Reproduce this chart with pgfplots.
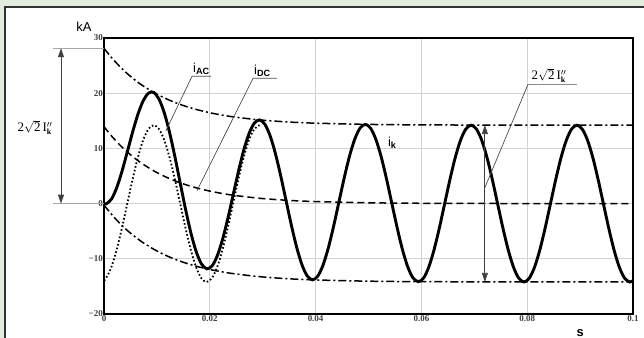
\documentclass[border=0pt]{standalone}
\usepackage{fontspec}
\setmainfont{Liberation Sans}
\newfontfamily\tnr{Liberation Serif}
\usepackage{pgfplots}
\pgfplotsset{compat=1.18}
\usetikzlibrary{arrows.meta}
\definecolor{bggreen}{RGB}{226,237,224}
\newcommand{\peaklabel}{{\tnr 2$\sqrt{\hbox{\tnr 2}}$\,I$^{\prime\prime}_{\hbox{\tnr\fontsize{8}{9}\selectfont\bfseries k}}$}}
\begin{document}
\begin{tikzpicture}
\useasboundingbox (0,0) rectangle (644bp,338bp);
\fill[bggreen] (0,0) rectangle (644bp,338bp);
\fill[white] (5bp,0) rectangle (644bp,331bp);
\draw[line width=1.4bp, black!80] (5bp,0) -- (5bp,331bp) -- (644bp,331bp);
\begin{axis}[
 at={(104bp,24bp)}, anchor=south west,
 scale only axis, width=529bp, height=276bp,
 xmin=0, xmax=0.1, ymin=-20, ymax=30,
 xtick={0,0.02,0.04,0.06,0.08,0.1},
 xticklabels={0,0.02,0.04,0.06,0.08,0.1},
 ytick={-20,-10,0,10,20,30},
 yticklabels={−20,−10,0,10,20,30},
 grid=major,
 major grid style={gray!35, line width=0.7bp},
 major tick length=0pt,
 tick label style={font=\tnr\bfseries\fontsize{9}{10}\selectfont, text=black!75},
 xticklabel style={inner sep=1.5bp},
 yticklabel style={inner sep=1bp},
 axis line style={line width=1.2bp},
 clip=false,
]
% i_AC (dotted)
\addplot[black, line width=1.8bp, dash pattern=on 1.6bp off 2.2bp, smooth] coordinates {
(0,-13.948) (0.0004,-13.505) (0.0014,-11.488) (0.0024,-8.347) (0.0034,-4.388) (0.0044,0)
(0.0054,4.388) (0.0064,8.347) (0.0074,11.488) (0.0084,13.505) (0.0094,14.2) (0.0104,13.505)
(0.0114,11.488) (0.0124,8.347) (0.0134,4.388) (0.0144,0) (0.0154,-4.388) (0.0164,-8.347)
(0.0174,-11.488) (0.0184,-13.505) (0.0194,-14.2) (0.0204,-13.505) (0.0214,-11.488)
(0.0224,-8.347) (0.0234,-4.388) (0.0244,0) (0.0254,4.388) (0.0264,8.347) (0.0274,11.488)
(0.0284,13.505) (0.0294,14.2)};
% i_DC (dashed)
\addplot[black, line width=1.5bp, dash pattern=on 7bp off 4bp, smooth] coordinates {
(0,13.95) (0.0004,13.452) (0.0014,12.283) (0.0024,11.216) (0.0034,10.241) (0.0044,9.351)
(0.0054,8.539) (0.0064,7.797) (0.0074,7.119) (0.0094,5.936) (0.0114,4.949) (0.0134,4.126)
(0.0154,3.440) (0.0174,2.868) (0.0194,2.392) (0.0214,1.994) (0.0244,1.518) (0.0294,0.964)
(0.0344,0.612) (0.0394,0.388) (0.0494,0.156) (0.0594,0.063) (0.0794,0.01) (0.1,0.002)};
% upper envelope
\addplot[black, line width=1.5bp, dash pattern=on 8bp off 3bp on 2bp off 3bp, smooth] coordinates {
(0,28.15) (0.0004,27.652) (0.0014,26.483) (0.0024,25.416) (0.0034,24.441) (0.0044,23.551)
(0.0054,22.739) (0.0064,21.997) (0.0074,21.319) (0.0094,20.136) (0.0114,19.149) (0.0134,18.326)
(0.0154,17.640) (0.0174,17.068) (0.0194,16.592) (0.0214,16.194) (0.0244,15.718) (0.0294,15.164)
(0.0344,14.812) (0.0394,14.588) (0.0494,14.356) (0.0594,14.263) (0.0794,14.21) (0.1,14.202)};
% lower envelope
\addplot[black, line width=1.5bp, dash pattern=on 8bp off 3bp on 2bp off 3bp, smooth] coordinates {
(0,-0.25) (0.0004,-0.748) (0.0014,-1.917) (0.0024,-2.984) (0.0034,-3.959) (0.0044,-4.849)
(0.0054,-5.661) (0.0064,-6.403) (0.0074,-7.081) (0.0094,-8.264) (0.0114,-9.251) (0.0134,-10.074)
(0.0154,-10.760) (0.0174,-11.332) (0.0194,-11.808) (0.0214,-12.206) (0.0244,-12.682) (0.0294,-13.236)
(0.0344,-13.588) (0.0394,-13.812) (0.0494,-14.044) (0.0594,-14.137) (0.0794,-14.19) (0.1,-14.198)};
% i_k total (thick)
\addplot[black, line width=2.9bp, smooth] coordinates {
(0,0) (0.0004,-0.053) (0.0014,0.795) (0.0024,2.869) (0.0034,5.853) (0.0044,9.351)
(0.0054,12.927) (0.0064,16.144) (0.0074,18.607) (0.0084,20.006) (0.0094,20.136) (0.0104,18.925)
(0.0114,16.437) (0.0124,12.866) (0.0134,8.514) (0.0144,3.768) (0.0154,-0.948) (0.0164,-5.206)
(0.0174,-8.620) (0.0184,-10.886) (0.0194,-11.808) (0.0204,-11.321) (0.0214,-9.494) (0.0224,-6.526)
(0.0234,-2.725) (0.0244,1.518) (0.0254,5.774) (0.0264,9.613) (0.0274,12.644) (0.0284,14.560)
(0.0294,15.164) (0.0304,14.385) (0.0314,12.291) (0.0324,9.081) (0.0334,5.058) (0.0344,0.612)
(0.0354,-3.830) (0.0364,-7.837) (0.0374,-11.022) (0.0384,-13.080) (0.0394,-13.812) (0.0404,-13.151)
(0.0414,-11.164) (0.0424,-8.051) (0.0434,-4.118) (0.0444,0.246) (0.0454,4.613) (0.0464,8.552)
(0.0474,11.675) (0.0484,13.676) (0.0494,14.356) (0.0504,13.648) (0.0514,11.618) (0.0524,8.466)
(0.0534,4.497) (0.0544,0.099) (0.0554,-4.297) (0.0564,-8.264) (0.0574,-11.413) (0.0584,-13.436)
(0.0594,-14.137) (0.0604,-13.505) (0.0614,-11.488) (0.0624,-8.347) (0.0634,-4.388) (0.0644,0)
(0.0654,4.388) (0.0664,8.347) (0.0674,11.488) (0.0684,13.505) (0.0694,14.2) (0.0704,13.505)
(0.0714,11.488) (0.0724,8.347) (0.0734,4.388) (0.0744,0) (0.0754,-4.388) (0.0764,-8.347)
(0.0774,-11.488) (0.0784,-13.505) (0.0794,-14.2) (0.0804,-13.505) (0.0814,-11.488) (0.0824,-8.347)
(0.0834,-4.388) (0.0844,0) (0.0854,4.388) (0.0864,8.347) (0.0874,11.488) (0.0884,13.505)
(0.0894,14.2) (0.0904,13.505) (0.0914,11.488) (0.0924,8.347) (0.0934,4.388) (0.0944,0)
(0.0954,-4.388) (0.0964,-8.347) (0.0974,-11.488) (0.0984,-13.505) (0.0994,-14.2) (0.1,-13.948)};
% heavier left and bottom axis lines
\draw[line width=2.2bp] (rel axis cs:0,1) -- (rel axis cs:0,0) -- (rel axis cs:1,0);
% left dimension arrow
\draw[gray!70, line width=0.8bp] (axis cs:-0.0097,28.15) -- (axis cs:0,28.15);
\draw[gray!70, line width=0.8bp] (axis cs:-0.0097,0) -- (axis cs:0,0);
\draw[black!75, line width=0.8bp, {Triangle[width=6bp,length=9bp]}-{Triangle[width=6bp,length=9bp]}]
  (axis cs:-0.00813,28.15) -- (axis cs:-0.00813,0);
\node[font=\fontsize{13}{15}\selectfont, inner sep=0pt] at (axis cs:-0.01304,13.8) {\peaklabel};
% right dimension arrow
\draw[black!75, line width=0.8bp, {Triangle[width=6bp,length=9bp]}-{Triangle[width=6bp,length=9bp]}]
  (axis cs:0.072,14.22) -- (axis cs:0.072,-14.18);
% leader lines
\draw[black!70, line width=0.7bp] (axis cs:0.0117,13.2) -- (axis cs:0.01664,23.06) -- (axis cs:0.02023,23.06);
\node[anchor=south west, inner sep=1bp, font=\fontsize{13}{15}\selectfont] at (axis cs:0.01664,23.2) {i\textsubscript{\bfseries AC}};
\draw[black!70, line width=0.7bp] (axis cs:0.01758,2.34) -- (axis cs:0.02817,22.7) -- (axis cs:0.0327,22.7);
\node[anchor=south west, inner sep=1bp, font=\fontsize{13}{15}\selectfont] at (axis cs:0.02817,22.8) {i\textsubscript{\bfseries DC}};
\draw[black!70, line width=0.7bp] (axis cs:0.0720,2.9) -- (axis cs:0.08015,21.6) -- (axis cs:0.0894,21.6);
\node[anchor=south west, inner sep=1bp, font=\fontsize{13}{15}\selectfont] at (axis cs:0.0806,21.7) {\peaklabel};
\node[font=\fontsize{13}{15}\selectfont] at (axis cs:0.0545,11) {i\textsubscript{\bfseries k}};
% axis unit labels
\node[font=\fontsize{13}{15}\selectfont] at (axis cs:-0.00378,32.1) {kA};
\node[font=\fontsize{13}{15}\selectfont\bfseries] at (axis cs:0.09,-23.4) {s};
\end{axis}
\end{tikzpicture}
\end{document}
